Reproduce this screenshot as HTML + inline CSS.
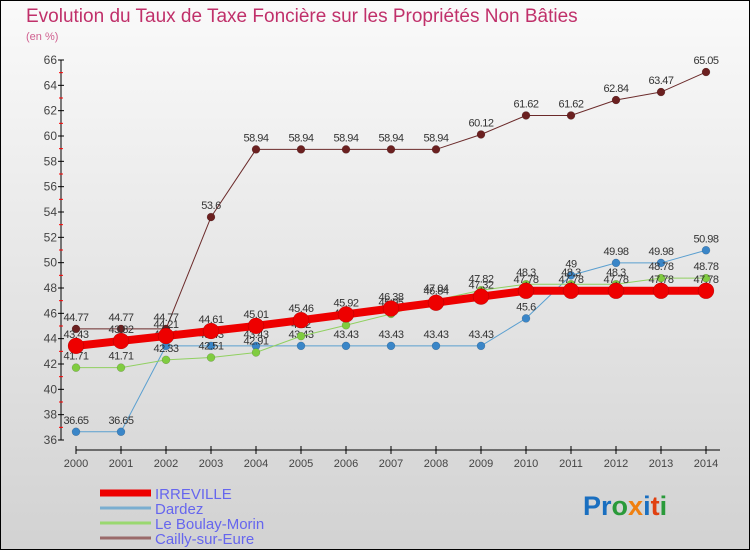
<!DOCTYPE html>
<html><head><meta charset="utf-8"><style>
body{margin:0}
svg{display:block;font-family:"Liberation Sans",sans-serif}
</style></head><body>
<svg id="c" width="750" height="550">
<defs><linearGradient id="bg" x1="0" y1="0" x2="0" y2="1"><stop offset="0" stop-color="#fafafa"/><stop offset="1" stop-color="#d2d2d2"/></linearGradient></defs>
<rect x="0.5" y="0.5" width="749" height="549" fill="url(#bg)" stroke="#000"/>
<text x="26" y="22" font-size="19" fill="#c0306a">Evolution du Taux de Taxe Foncière sur les Propriétés Non Bâties</text>
<text x="26" y="40" font-size="11" fill="#d06090">(en %)</text>
<g id="axes"></g><g id="series"></g><g id="legend"></g>
<text x="583" y="515" font-size="27" font-weight="bold"><tspan fill="#1a6fc0">Pr</tspan><tspan fill="#2a9a3a">o</tspan><tspan fill="#f08010">x</tspan><tspan fill="#1a6fc0">i</tspan><tspan fill="#e04010">t</tspan><tspan fill="#2a9a3a">i</tspan></text>
</svg>
<script>
const years=[2000,2001,2002,2003,2004,2005,2006,2007,2008,2009,2010,2011,2012,2013,2014];
const yTicks=[36,38,40,42,44,46,48,50,52,54,56,58,60,62,64,66];
const irreville=[43.43,43.82,44.21,44.61,45.01,45.46,45.92,46.38,46.84,47.32,47.78,47.78,47.78,47.78,47.78];
const dardez=[36.65,36.65,43.43,43.43,43.43,43.43,43.43,43.43,43.43,43.43,45.6,49,49.98,49.98,50.98];
const boulay=[41.71,41.71,42.33,42.51,42.91,44.2,45.06,45.95,47.04,47.82,48.3,48.3,48.3,48.78,48.78];
const cailly=[44.77,44.77,44.77,53.6,58.94,58.94,58.94,58.94,58.94,60.12,61.62,61.62,62.84,63.47,65.05];
const names=["IRREVILLE","Dardez","Le Boulay-Morin","Cailly-sur-Eure"];
const NS="http://www.w3.org/2000/svg";
const X=i=>76+i*45;
const Y=v=>440-(v-36)*(380/30);
function mk(t,a,p){const e=document.createElementNS(NS,t);for(const k in a)e.setAttribute(k,a[k]);p.appendChild(e);return e;}
const ax=document.getElementById('axes');
let l=mk('line',{x1:61,y1:Y(66),x2:61,y2:Y(36),stroke:'#000'},ax);


l=mk('line',{x1:76,y1:450,x2:720,y2:450,stroke:'#000'},ax);


yTicks.forEach(v=>{
 mk('line',{x1:58,x2:64,y1:Y(v),y2:Y(v),stroke:'#000'},ax);
 if(v<66)mk('line',{x1:59,x2:63,y1:Y(v+1),y2:Y(v+1),stroke:'#f00'},ax);
 const t=mk('text',{x:57,y:Y(v)+4,'font-size':12,'text-anchor':'end',fill:'#444'},ax);t.textContent=v;
 
 
});
years.forEach((y,i)=>{
 mk('line',{x1:X(i),x2:X(i),y1:446,y2:454,stroke:'#000'},ax);
 const t=mk('text',{x:X(i),y:467,'font-size':11,'text-anchor':'middle',fill:'#444'},ax);t.textContent=y;
 
 
});
const sg=document.getElementById('series');
function series(data,col,w,r,name,dot){
 const g=mk('g',{},sg);
 
 
 mk('polyline',{points:data.map((v,i)=>X(i)+','+Y(v)).join(' '),fill:'none',stroke:col,'stroke-width':w},g);
 data.forEach((v,i)=>{
  const c=mk('circle',{cx:X(i),cy:Y(v),r:r,fill:dot,stroke:'rgba(0,0,0,0.25)','stroke-width':0.5},g);
  
  
  const t=mk('text',{x:X(i),y:Y(v)-8,'font-size':11,'text-anchor':'middle',fill:'#333','letter-spacing':'-0.5'},g);t.textContent=v;
 });
}
series(cailly,'#6b2a2a',1,4,'series-cailly','#6b2020');
series(dardez,'#5a9fd0',1,4,'series-dardez','#3a86c8');
series(boulay,'#90d060',1,4,'series-boulay','#80cc40');
series(irreville,'#ee0000',8,8,'series-irreville','#ee0000');
const lg=document.getElementById('legend');
const cols=['#ee0000','#7aaed0','#9ad870','#9a6a6a'],ws=[7,3,3,3];
names.forEach((n,i)=>{
 const y=492+i*15;
 const g=mk('g',{},lg);
 
 
 mk('line',{x1:100,x2:151,y1:y+1,y2:y+1,stroke:cols[i],'stroke-width':ws[i]},g);
 const t=mk('text',{x:155,y:y+7,'font-size':15,fill:'#6666ee'},g);t.textContent=n;
});
</script>
</body></html>
